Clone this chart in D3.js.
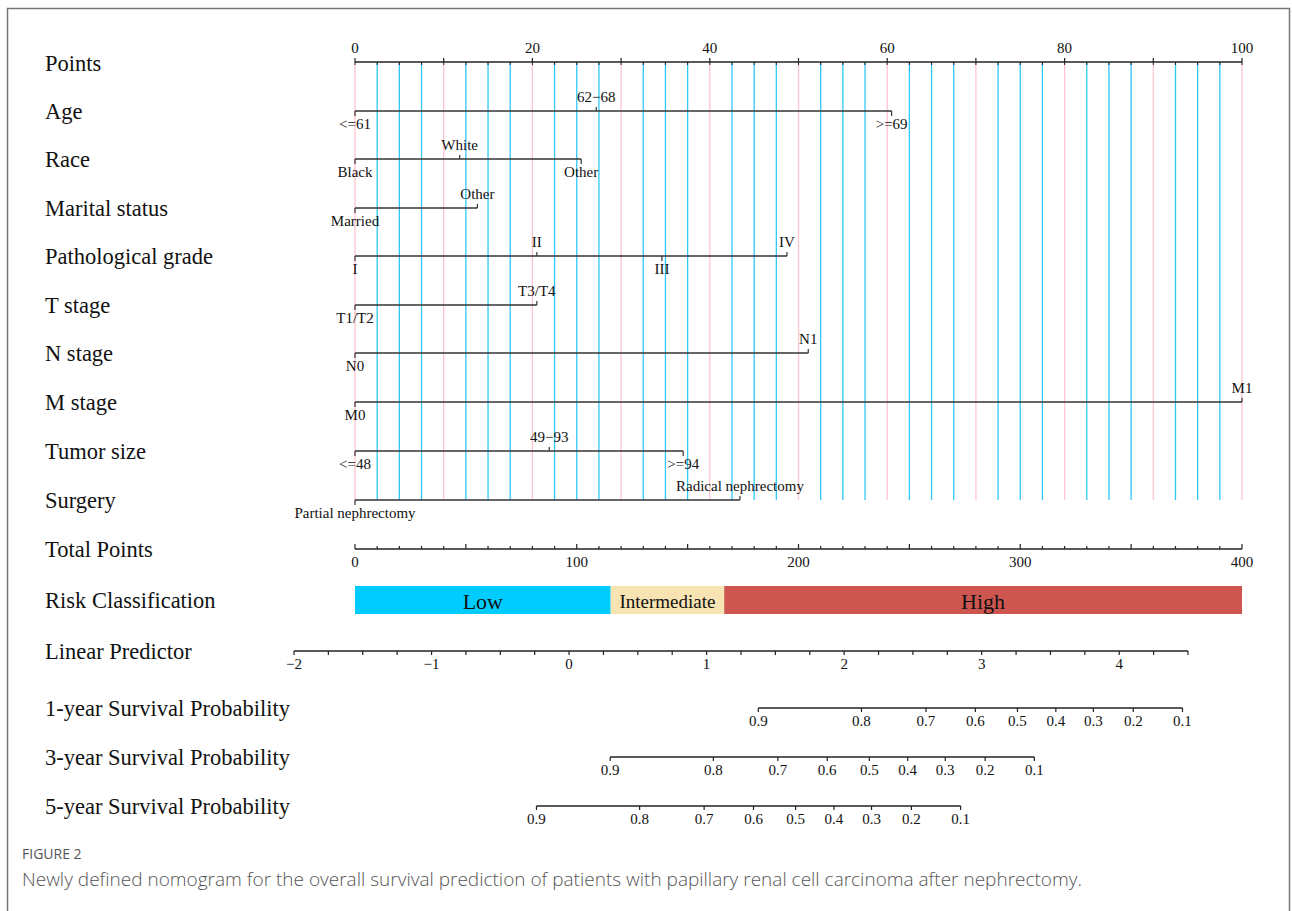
<!DOCTYPE html>
<html>
<head>
<meta charset="utf-8">
<script src="https://cdn.jsdelivr.net/npm/d3@7/dist/d3.min.js"></script>
<style>
  html, body { margin: 0; padding: 0; background: #fff; }
  svg { display: block; }
</style>
</head>
<body>
<svg id="chart" width="1292" height="911"></svg>
<script>
// ---- Nomogram content ----
const rowNames = ["Points", "Age", "Race", "Marital status", "Pathological grade",
  "T stage", "N stage", "M stage", "Tumor size", "Surgery", "Total Points",
  "Risk Classification", "Linear Predictor", "1-year Survival Probability",
  "3-year Survival Probability", "5-year Survival Probability"];

const pointTicks = [0, 20, 40, 60, 80, 100];

// Each predictor: level labels and the points each level contributes
const ageLevels = ["<=61", "62\u221268", ">=69"];
const agePoints = [0, 27.2, 60.5];
const raceLevels = ["Black", "White", "Other"];
const racePoints = [0, 11.8, 25.5];
const maritalLevels = ["Married", "Other"];
const maritalPoints = [0, 13.8];
const gradeLevels = ["I", "II", "III", "IV"];
const gradePoints = [0, 20.5, 34.6, 48.7];
const tLevels = ["T1/T2", "T3/T4"];
const tPoints = [0, 20.5];
const nLevels = ["N0", "N1"];
const nPoints = [0, 51.1];
const mLevels = ["M0", "M1"];
const mPoints = [0, 100];
const sizeLevels = ["<=48", "49\u221293", ">=94"];
const sizePoints = [0, 21.9, 37.0];
const surgeryLevels = ["Partial nephrectomy", "Radical nephrectomy"];
const surgeryPoints = [0, 43.4];

const totalTicks = [0, 100, 200, 300, 400];

// Risk groups on the total-points scale
const riskGroups = ["Low", "Intermediate", "High"];
const riskBreaks = [0, 115.3, 166.5, 400];
const riskColors = ["#00CCFF", "#F8E4B2", "#CD5650"];

const lpTicks = [-2, -1, 0, 1, 2, 3, 4];
const lpRange = [-2, 4.5];

// Survival probability labels and where they sit on the linear predictor
const survLabels = [0.9, 0.8, 0.7, 0.6, 0.5, 0.4, 0.3, 0.2, 0.1];
const surv1yLP = [1.376, 2.126, 2.595, 2.954, 3.260, 3.539, 3.812, 4.102, 4.460];
const surv3yLP = [0.299, 1.049, 1.518, 1.877, 2.183, 2.462, 2.735, 3.025, 3.383];
const surv5yLP = [-0.237, 0.513, 0.982, 1.341, 1.647, 1.926, 2.199, 2.489, 2.847];

// ---- Drawing ----
const svg = d3.select("#chart");
const serif = "'Liberation Serif', 'Times New Roman', serif";
const ink = "#222";
const tickFont = 15;

// scales
const xPts = d3.scaleLinear().domain([0, 100]).range([355, 1242]);
const xTot = d3.scaleLinear().domain([0, 400]).range([355, 1242]);
const xLP = d3.scaleLinear().domain(lpRange).range([294, 1188]);

// vertical row centres
const rowY = [62, 111, 159, 208, 256, 305, 353, 402, 451, 500, 549, 600, 651, 708, 757, 806];

// frame
svg.append("path")
  .attr("d", "M7.5,930 V8.5 H1289.5 V930")
  .attr("fill", "none").attr("stroke", "#777").attr("stroke-width", 1.5);

// row labels
svg.append("g").selectAll("text").data(rowNames).join("text")
  .attr("x", 45).attr("y", (d, i) => rowY[i] + (i === 0 ? 1 : 0))
  .attr("dy", "0.35em")
  .attr("font-family", serif).attr("font-size", 22.5).attr("fill", "#111")
  .text(d => d);

// reference lines every 2.5 points (pink at multiples of 10)
const gridVals = d3.range(0, 100.01, 2.5);
svg.append("g").selectAll("line").data(gridVals).join("line")
  .attr("x1", d => xPts(d)).attr("x2", d => xPts(d))
  .attr("y1", rowY[0]).attr("y2", rowY[9])
  .attr("stroke", d => (d % 10 === 0 ? "#FFC4CE" : "#30C8F8"))
  .attr("stroke-width", 1.3);

// Points axis
const gPts = svg.append("g").attr("transform", `translate(0,${rowY[0]})`);
gPts.append("line").attr("x1", xPts(0)).attr("x2", xPts(100))
  .attr("stroke", ink).attr("stroke-width", 1.3);
gPts.selectAll("line.t").data(d3.range(0, 100.01, 10)).join("line").attr("class", "t")
  .attr("x1", d => xPts(d)).attr("x2", d => xPts(d)).attr("y1", 0).attr("y2", -4)
  .attr("stroke", ink).attr("stroke-width", 1.2);
gPts.selectAll("line.m").data(gridVals).join("line").attr("class", "m")
  .attr("x1", d => xPts(d)).attr("x2", d => xPts(d)).attr("y1", 0).attr("y2", 3)
  .attr("stroke", ink).attr("stroke-width", 1);
gPts.selectAll("text").data(pointTicks).join("text")
  .attr("x", d => xPts(d)).attr("y", -14).attr("dy", "0.35em")
  .attr("text-anchor", "middle").attr("font-family", serif).attr("font-size", tickFont)
  .attr("fill", "#111").text(d => d);

// predictor rows
const predictors = [
  [ageLevels, agePoints], [raceLevels, racePoints], [maritalLevels, maritalPoints],
  [gradeLevels, gradePoints], [tLevels, tPoints], [nLevels, nPoints],
  [mLevels, mPoints], [sizeLevels, sizePoints], [surgeryLevels, surgeryPoints]
];
predictors.forEach(([levels, pts], r) => {
  const y = rowY[r + 1];
  const g = svg.append("g").attr("transform", `translate(0,${y})`);
  g.append("line").attr("x1", xPts(d3.min(pts))).attr("x2", xPts(d3.max(pts)))
    .attr("stroke", "#333").attr("stroke-width", 1.4);
  const items = levels.map((lab, i) => ({ lab, p: pts[i], up: i % 2 === 1 }));
  g.selectAll("line.tk").data(items).join("line").attr("class", "tk")
    .attr("x1", d => xPts(d.p)).attr("x2", d => xPts(d.p))
    .attr("y1", 0).attr("y2", d => (d.up ? -4 : 5))
    .attr("stroke", "#333").attr("stroke-width", 1.2);
  g.selectAll("text").data(items).join("text")
    .attr("x", d => xPts(d.p)).attr("y", d => (d.up ? -14 : 13)).attr("dy", "0.35em")
    .attr("text-anchor", "middle").attr("font-family", serif).attr("font-size", 15)
    .attr("fill", "#111").text(d => d.lab);
});

// Total points axis
const gTot = svg.append("g").attr("transform", `translate(0,${rowY[10]})`);
gTot.append("line").attr("x1", xTot(0)).attr("x2", xTot(400))
  .attr("stroke", ink).attr("stroke-width", 1.3);
gTot.selectAll("line.t").data(d3.range(0, 400.01, 10)).join("line").attr("class", "t")
  .attr("x1", d => xTot(d)).attr("x2", d => xTot(d))
  .attr("y1", 0).attr("y2", d => (d % 50 === 0 ? -5 : -3))
  .attr("stroke", ink).attr("stroke-width", 1.2);
gTot.selectAll("text").data(totalTicks).join("text")
  .attr("x", d => xTot(d)).attr("y", 13).attr("dy", "0.35em")
  .attr("text-anchor", "middle").attr("font-family", serif).attr("font-size", tickFont)
  .attr("fill", "#111").text(d => d);

// Risk classification bar
const risk = riskGroups.map((name, i) => ({ name, a: riskBreaks[i], b: riskBreaks[i + 1], c: riskColors[i] }));
const gRisk = svg.append("g").attr("transform", `translate(0,${rowY[11]})`);
gRisk.selectAll("rect").data(risk).join("rect")
  .attr("x", d => xTot(d.a)).attr("width", d => xTot(d.b) - xTot(d.a))
  .attr("y", -14).attr("height", 28).attr("fill", d => d.c);
gRisk.selectAll("text").data(risk).join("text")
  .attr("x", d => (xTot(d.a) + xTot(d.b)) / 2).attr("y", 1).attr("dy", "0.35em")
  .attr("text-anchor", "middle").attr("font-family", serif)
  .attr("font-size", d => (d.name === "Intermediate" ? 19 : 22))
  .attr("fill", "#111").text(d => d.name);

// Linear predictor axis
const gLP = svg.append("g").attr("transform", `translate(0,${rowY[12]})`);
gLP.append("line").attr("x1", xLP(lpRange[0])).attr("x2", xLP(lpRange[1]))
  .attr("stroke", ink).attr("stroke-width", 1.3);
gLP.selectAll("line.t").data(d3.range(-2, 4.51, 0.25)).join("line").attr("class", "t")
  .attr("x1", d => xLP(d)).attr("x2", d => xLP(d))
  .attr("y1", 0).attr("y2", 4)
  .attr("stroke", ink).attr("stroke-width", 1.2);
gLP.selectAll("text").data(lpTicks).join("text")
  .attr("x", d => xLP(d)).attr("y", 13).attr("dy", "0.35em")
  .attr("text-anchor", "middle").attr("font-family", serif).attr("font-size", tickFont)
  .attr("fill", "#111").text(d => d < 0 ? "\u2212" + Math.abs(d) : d);

// Survival probability axes
[surv1yLP, surv3yLP, surv5yLP].forEach((lps, k) => {
  const g = svg.append("g").attr("transform", `translate(0,${rowY[13 + k]})`);
  const items = survLabels.map((s, i) => ({ s, lp: lps[i] }));
  g.append("line").attr("x1", xLP(d3.min(lps))).attr("x2", xLP(d3.max(lps)))
    .attr("stroke", ink).attr("stroke-width", 1.3);
  g.selectAll("line.t").data(items).join("line").attr("class", "t")
    .attr("x1", d => xLP(d.lp)).attr("x2", d => xLP(d.lp)).attr("y1", 0).attr("y2", 4)
    .attr("stroke", ink).attr("stroke-width", 1.2);
  g.selectAll("text").data(items).join("text")
    .attr("x", d => xLP(d.lp)).attr("y", 13).attr("dy", "0.35em")
    .attr("text-anchor", "middle").attr("font-family", serif).attr("font-size", tickFont)
    .attr("fill", "#111").text(d => d3.format(".1f")(d.s));
});

// Caption
svg.append("text").attr("x", 22).attr("y", 859)
  .attr("font-family", "'Open Sans', 'Noto Sans', sans-serif").attr("font-size", 14)
  .attr("fill", "#555").text("FIGURE 2");
svg.append("text").attr("x", 22).attr("y", 886)
  .attr("font-family", "'Open Sans', 'Noto Sans', sans-serif").attr("font-size", 19)
  .attr("font-weight", 300)
  .attr("fill", "#555")
  .text("Newly defined nomogram for the overall survival prediction of patients with papillary renal cell carcinoma after nephrectomy.");
</script>
</body>
</html>
